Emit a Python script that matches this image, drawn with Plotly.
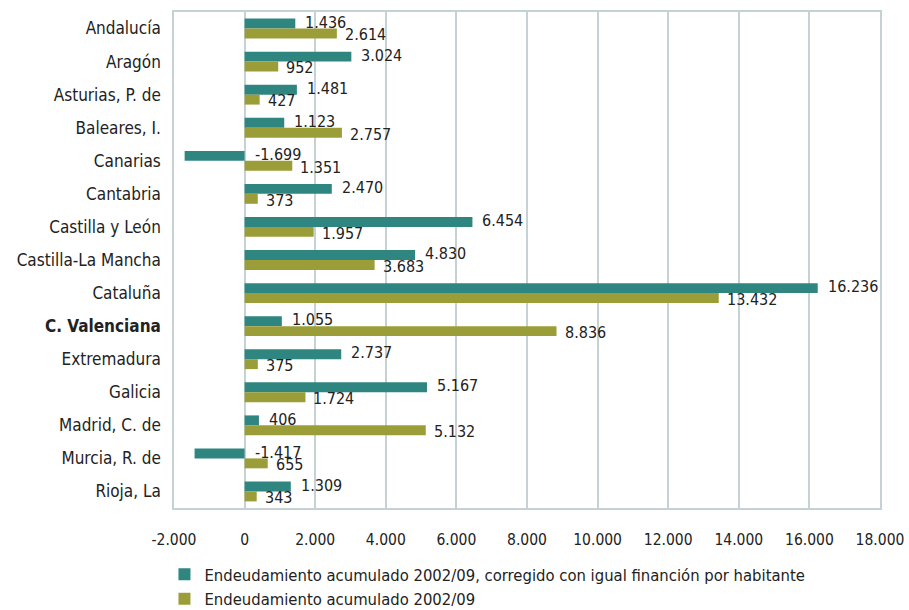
import plotly.graph_objects as go

regiones = [
    "Andalucía", "Aragón", "Asturias, P. de", "Baleares, I.", "Canarias",
    "Cantabria", "Castilla y León", "Castilla-La Mancha", "Cataluña",
    "C. Valenciana", "Extremadura", "Galicia", "Madrid, C. de",
    "Murcia, R. de", "Rioja, La",
]
corregido = [1436, 3024, 1481, 1123, -1699, 2470, 6454, 4830, 16236,
             1055, 2737, 5167, 406, -1417, 1309]
acumulado = [2614, 952, 427, 2757, 1351, 373, 1957, 3683, 13432,
             8836, 375, 1724, 5132, 655, 343]
ticks_x = [-2000, 0, 2000, 4000, 6000, 8000, 10000, 12000, 14000, 16000, 18000]

nombre_corr = "Endeudamiento acumulado 2002/09, corregido con igual financión por habitante"
nombre_acum = "Endeudamiento acumulado 2002/09"

TEAL = "#2f8580"
OLIVE = "#9b9e38"
FONT = "DejaVu Sans Condensed, DejaVu Sans, sans-serif"
TXT = "#222222"
GRID = "#c5d2d4"


def fmt(v):
    return f"{v:,}".replace(",", ".")


pos = list(range(len(regiones)))
etiquetas = [f"<b>{r}</b>" if r == "C. Valenciana" else r for r in regiones]

fig = go.Figure()
fig.add_trace(go.Bar(
    y=pos, x=corregido, orientation="h", name=nombre_corr,
    marker=dict(color=TEAL, line=dict(width=0)),
))
fig.add_trace(go.Bar(
    y=pos, x=acumulado, orientation="h", name=nombre_acum,
    marker=dict(color=OLIVE, line=dict(width=0)),
))

# value labels, to the right of the bar end (or of zero for negative values)
for vals, dy, shift in ((corregido, -0.19, 8), (acumulado, 0.19, 6)):
    for p, v in zip(pos, vals):
        fig.add_annotation(
            x=max(v, 0), y=p + dy, text=fmt(v),
            xanchor="left", yanchor="middle", xshift=shift,
            showarrow=False,
            font=dict(family=FONT, size=16, color=TXT),
        )

fig.update_layout(
    width=909, height=610,
    margin=dict(l=174, r=29, t=12, b=102, autoexpand=False),
    plot_bgcolor="white", paper_bgcolor="white",
    barmode="group", bargap=0.4, bargroupgap=0,
    font=dict(family=FONT, size=16, color=TXT),
    showlegend=True,
    legend=dict(
        orientation="v", x=-0.0135, y=-0.099, xanchor="left", yanchor="top",
        font=dict(family=FONT, size=16.5, color=TXT),
        itemwidth=30, tracegroupgap=0, bgcolor="rgba(0,0,0,0)",
    ),
)
fig.update_xaxes(
    range=[-2000, 18000],
    tickvals=ticks_x, ticktext=[fmt(t) for t in ticks_x],
    showgrid=True, gridcolor=GRID, gridwidth=1.5,
    zeroline=False,
    showline=True, linecolor=GRID, linewidth=1.5, mirror=True,
    ticks="", ticklabelstandoff=17,
    tickfont=dict(family=FONT, size=15.5, color=TXT),
)
fig.update_yaxes(
    range=[len(regiones) - 0.5, -0.5],
    tickvals=pos, ticktext=etiquetas,
    showgrid=False, zeroline=False,
    showline=True, linecolor=GRID, linewidth=1.5, mirror=True,
    ticks="", ticklabelstandoff=8,
    tickfont=dict(family=FONT, size=17, color=TXT),
)

fig.write_html("out.html")
